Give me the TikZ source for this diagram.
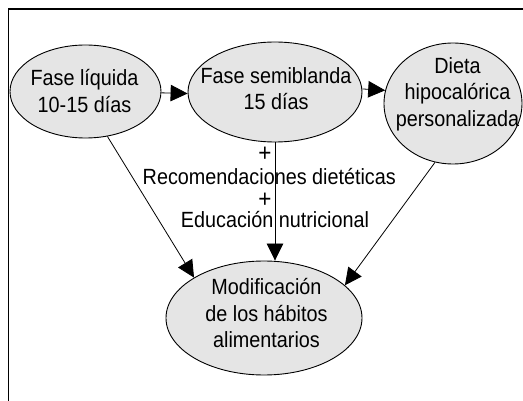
\documentclass[tikz,border=0pt]{standalone}
\usepackage{fontspec}
\setmainfont{Liberation Sans}[FakeStretch=0.9]
\usetikzlibrary{shapes.geometric,arrows.meta}
% zero-size text block: first baseline raised by #2 above the node centre, shifted right by #1
\newcommand{\intext}[3]{\raisebox{#2}[0pt][0pt]{\makebox[0pt]{\kern#1\relax\begin{tabular}[t]{@{}c@{}}#3\end{tabular}\kern-#1\relax}}}
\tikzset{
  blob/.style={ellipse, draw=black, fill=black!10, line width=0.9pt, inner sep=0pt},
  conn/.style={-{Triangle[length=17pt,width=16.5pt]}, line width=0.8pt},
  lbl/.style={inner sep=0pt, anchor=base},
  plussign/.style={inner sep=0pt, anchor=center, font=\fontsize{25}{25}\selectfont},
  frameline/.style={line width=1.6pt},
}
\begin{document}
\begin{tikzpicture}[x=1pt, y=-1pt, font=\fontsize{22}{26.5}\selectfont]
\useasboundingbox (0,0) rectangle (523,401);
% frame
\draw[frameline] (8.3,402) -- (8.3,9) -- (524,9);
% ellipses
\node[blob, minimum width=151pt, minimum height=93pt] (liq) at (85.5,91.5)
  {\intext{-1pt}{5.5pt}{Fase líquida\\10-15 días}};
\node[blob, minimum width=174pt, minimum height=100pt] (semi) at (275,92)
  {\intext{1pt}{8.5pt}{Fase semiblanda\\15 días}};
\node[blob, minimum width=138pt, minimum height=121pt] (diet) at (453,103.5)
  {\intext{4.5pt}{30pt}{Dieta\\hipocalórica\\personalizada}};
\node[blob, minimum width=196pt, minimum height=114pt] (mod) at (264,318)
  {\intext{2.5pt}{23pt}{Modificación\\de los hábitos\\alimentarios}};
% connectors
\draw[conn] (liq.-1) -- (semi.181);
\draw[conn] (semi.2) -- (diet.169);
\draw[conn] (liq.-64) -- (mod.150);
\draw[conn] (semi.south) -- (semi.south |- mod.north);
\draw[conn] (diet.253) -- (mod.22);
% labels on the middle connector
\node[plussign] (plusA) at (265,154.5) {+};
\node[lbl] (recom) at (269.3,184.3) {Recomendaciones dietéticas};
\node[plussign] (plusB) at (265,200.5) {+};
\node[lbl, text height=15pt] (educ) at (275,228) {Educación nutricional};
\end{tikzpicture}
\end{document}
